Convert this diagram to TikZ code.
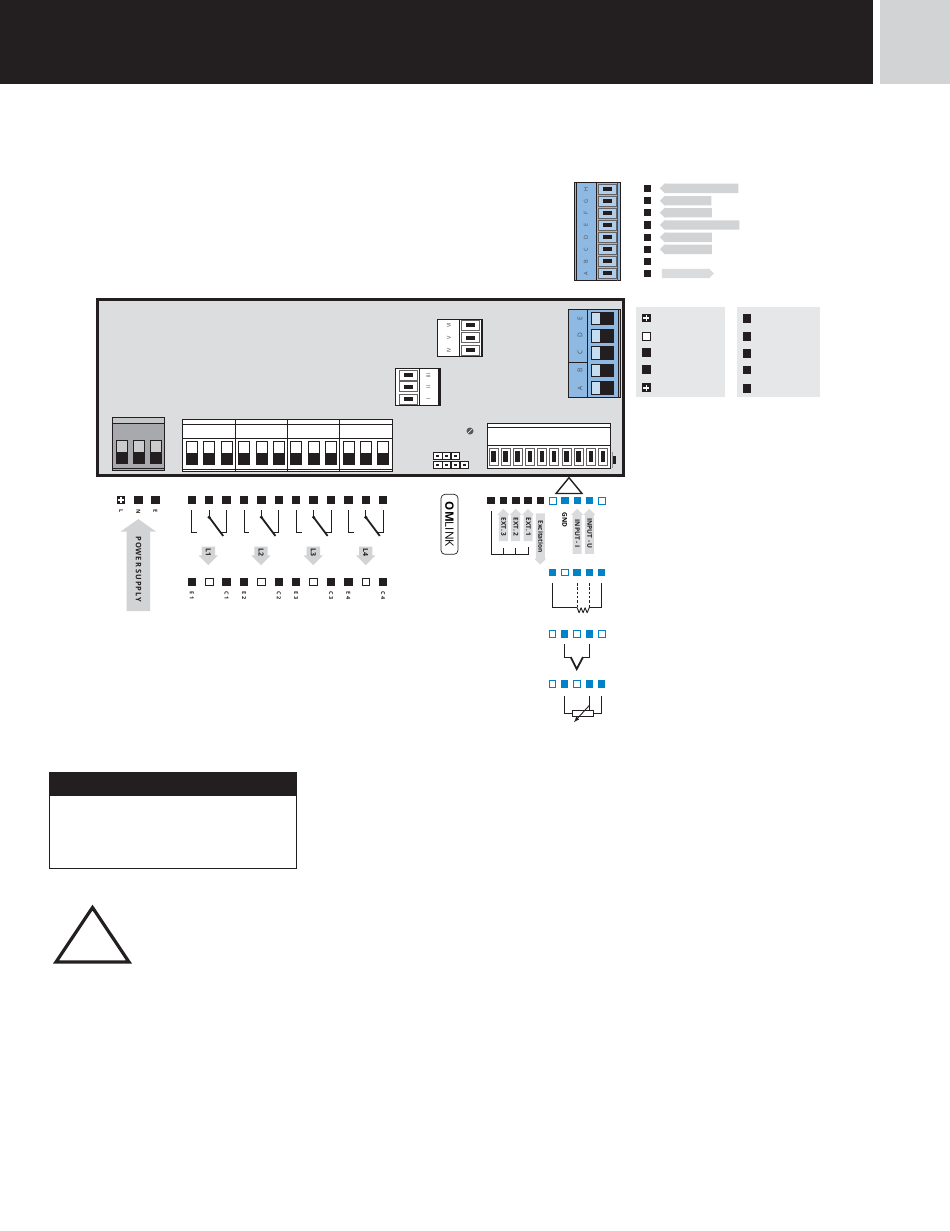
\documentclass[tikz,border=0pt]{standalone}
\usepackage{fontspec}
\setsansfont{Open Sans}
\usetikzlibrary{shapes.arrows}
\definecolor{blk}{HTML}{231F20}
\definecolor{tabgrey}{HTML}{D1D3D4}
\definecolor{panelgrey}{HTML}{DCDDDE}
\definecolor{legendgrey}{HTML}{E6E7E8}
\definecolor{arrowgrey}{HTML}{DADBDC}
\definecolor{pwrgrey}{HTML}{A7A9AC}
\definecolor{sigblue}{HTML}{0082C6}
\definecolor{connblue}{HTML}{8DB9E3}
\begin{document}
\begin{tikzpicture}[x=1pt, y=-1pt]
        \tikzstyle{every node}=[inner sep=0pt, outer sep=0pt, font=\sffamily]
        \tikzstyle{sqfull}=[fill=blk, minimum size=8.5pt]
        \tikzstyle{sqopen}=[draw=blk, fill=white, line width=0.8pt, minimum size=7.7pt]
        \tikzstyle{sqsmall}=[fill=blk, minimum size=7.5pt]
        \tikzstyle{sqblue}=[fill=sigblue, minimum size=7.5pt]
        \tikzstyle{sqring}=[draw=sigblue, fill=white, line width=0.8pt, minimum size=6.7pt]
        \tikzstyle{sqplus}=[sqfull, path picture={
            \draw[white, line width=1.6pt] ([xshift=-3pt]path picture bounding box.center) -- ([xshift=3pt]path picture bounding box.center);
            \draw[white, line width=1.6pt] ([yshift=-3pt]path picture bounding box.center) -- ([yshift=3pt]path picture bounding box.center);}]
        \tikzstyle{halfblack}=[path picture={
            \fill[blk] (path picture bounding box.west) rectangle (path picture bounding box.south east);}]
        \tikzstyle{relayterm}=[draw=blk, fill=white, line width=0.8pt, minimum width=11pt, minimum height=22.5pt, halfblack]
        \tikzstyle{pwrterm}=[draw=blk, fill=pwrgrey!60, line width=0.8pt, minimum width=11pt, minimum height=22.5pt, halfblack]
        \tikzstyle{rightblack}=[path picture={
            \fill[blk] ([xshift=-2pt]path picture bounding box.north) rectangle (path picture bounding box.south east);}]
        \tikzstyle{bigterm}=[draw=blk, fill=connblue!50, line width=0.9pt, minimum width=22pt, minimum height=12.5pt, rightblack]
        \tikzstyle{midblack}=[path picture={
            \fill[blk] ([shift={(-4.5pt,-2pt)}]path picture bounding box.center) rectangle ([shift={(4.5pt,2pt)}]path picture bounding box.center);}]
        \tikzstyle{bluecage}=[draw=blk!70, fill=connblue!70, line width=0.5pt, minimum width=18pt, minimum height=10pt, midblack]
        \tikzstyle{whitecage}=[draw=blk!70, fill=white, line width=0.5pt, minimum width=17.5pt, minimum height=10pt, midblack]
        \tikzstyle{stripcage}=[draw=blk!70, fill=white, line width=0.5pt, minimum width=9pt, minimum height=17pt, path picture={
            \fill[blk] ([shift={(-2.2pt,-5.5pt)}]path picture bounding box.center) rectangle ([shift={(2.2pt,5.5pt)}]path picture bounding box.center);}]
        \tikzstyle{jumper}=[draw=blk, fill=white, line width=0.6pt, minimum width=8.3pt, minimum height=7.4pt, path picture={
            \fill[blk] ([shift={(-1.5pt,-1pt)}]path picture bounding box.center) rectangle ([shift={(1.5pt,1pt)}]path picture bounding box.center);}]
        \tikzstyle{pinname}=[rotate=90, font=\sffamily\fontsize{5.5}{5.5}\selectfont, text=blk!80]
        \tikzstyle{tagtext}=[rotate=-90, anchor=west, font=\sffamily\bfseries\fontsize{5.5}{6}\selectfont, text=blk]
        \tikzstyle{tagarrow}=[single arrow, fill=arrowgrey, rotate=-90, text height=5pt, text depth=1pt, inner ysep=1.3pt, single arrow head extend=1.6pt, font=\sffamily\bfseries\fontsize{6.5}{6.5}\selectfont, text=blk]
        \tikzstyle{uparrow}=[tagarrow, shape border rotate=180]
        \tikzstyle{lamparrow}=[tagarrow, fill=tabgrey, text height=6pt, inner ysep=3pt, single arrow head extend=3pt, minimum height=18.5pt, font=\sffamily\bfseries\fontsize{7}{7}\selectfont]
        \tikzstyle{legendarrow}=[single arrow, fill=tabgrey, text height=5pt, text depth=0pt, inner ysep=2pt, single arrow head extend=0.6pt, shape border rotate=180]
        \tikzstyle{wire}=[blk, line width=0.9pt]
        \tikzstyle{heavywire}=[blk, line width=1.8pt]

        \useasboundingbox (0,0) rectangle (950,1231);

        % header
        \fill[blk] (0,0) rectangle (873,84);
        \fill[tabgrey] (880,0) rectangle (950,84);

        % top connector
        \node (topblock) [draw=blk, fill=connblue, line width=1pt, minimum width=45.5pt, minimum height=98pt] at (597.5,231.5) {};
        \draw[blk, line width=1.2pt] (596.5,182.5) -- (596.5,280.5);
        \draw[blk, line width=1pt] (576,182.5) -- (576,280.5);
        \draw[blk!80, line width=0.6pt] (617.5,182.5) -- (617.5,280.5);
        \matrix (topterm) [row sep=1.55pt] at (607,231.3) {
            \node (th) [bluecage] {}; \\
            \node (tg) [bluecage] {}; \\
            \node (tf) [bluecage] {}; \\
            \node (te) [bluecage] {}; \\
            \node (td) [bluecage] {}; \\
            \node (tc) [bluecage] {}; \\
            \node (tb) [bluecage] {}; \\
            \node (ta) [bluecage] {}; \\
        };
        \node (lh) [pinname] at (586,189) {H};
        \node (lg) [pinname] at (586,201) {G};
        \node (lf) [pinname] at (586,213) {F};
        \node (le) [pinname] at (586,225) {E};
        \node (ld) [pinname] at (586,237.3) {D};
        \node (lc) [pinname] at (586,249.3) {C};
        \node (lb) [pinname] at (586,261.3) {B};
        \node (la) [pinname] at (586,273.3) {A};

        % top connector legend
        \node (s1) [sqsmall] at (647.3,188.5) {};
        \node (s2) [sqsmall] at (647.3,200.7) {};
        \node (s3) [sqsmall] at (647.3,212.7) {};
        \node (s4) [sqsmall] at (647.3,225) {};
        \node (s5) [sqsmall] at (647.3,237.3) {};
        \node (s6) [sqsmall] at (647.3,249.3) {};
        \node (s7) [sqsmall] at (647.3,261.3) {};
        \node (s8) [sqsmall] at (647.3,273.5) {};
        \node (a1) [legendarrow, minimum height=78.5pt] at (701.5,188.3) {};
        \node (a2) [legendarrow, minimum height=51.5pt] at (688,200.7) {};
        \node (a3) [legendarrow, minimum height=52pt] at (688.2,212.7) {};
        \node (a4) [legendarrow, minimum height=79.5pt] at (702,225) {};
        \node (a5) [legendarrow, minimum height=52pt] at (688.2,237.3) {};
        \node (a6) [legendarrow, minimum height=52pt] at (688.2,249.3) {};
        \node (a8) [legendarrow, shape border rotate=0, fill=arrowgrey, minimum height=52pt] at (685.5,273.5) {};

        % main unit
        \node (unit) [draw=blk, fill=panelgrey, line width=3pt, minimum width=525.5pt, minimum height=175.5pt] at (360.5,387.5) {};

        % blue connector
        \node (bluebox) [draw=blk, fill=connblue, line width=0.8pt, minimum width=52.5pt, minimum height=88pt] at (594.5,353.3) {};
        \draw[blk, line width=0.8pt] (587.7,309.3) -- (587.7,397.3);
        \draw[blk, line width=0.8pt] (568,362.7) -- (587.7,362.7);
        \draw[blk, line width=0.6pt] (618.7,309.3) -- (618.7,397.3);
        \node (be) [bigterm] at (602,318.3) {};
        \node (bd) [bigterm] at (602,335.7) {};
        \node (bc) [bigterm] at (602,353) {};
        \node (bb) [bigterm] at (602,370.3) {};
        \node (ba) [bigterm] at (602,388) {};
        \node (ne) [pinname, font=\sffamily\fontsize{6.5}{6.5}\selectfont] at (580,319) {E};
        \node (nd) [pinname, font=\sffamily\fontsize{6.5}{6.5}\selectfont] at (580,335.3) {D};
        \node (nc) [pinname, font=\sffamily\fontsize{6.5}{6.5}\selectfont] at (580,352) {C};
        \node (nb) [pinname, font=\sffamily\fontsize{6.5}{6.5}\selectfont] at (580,370) {B};
        \node (na) [pinname, font=\sffamily\fontsize{6.5}{6.5}\selectfont] at (580,388) {A};

        % IV V VI connector
        \node (upperbox) [draw=blk, fill=white, line width=1pt, minimum width=45pt, minimum height=37pt] at (460,338) {};
        \draw[blk, line width=0.8pt] (459.3,319.5) -- (459.3,356.5);
        \draw[blk, line width=2pt] (481.5,319.5) -- (481.5,356.5);
        \node (u6) [whitecage] at (470,325) {};
        \node (u5) [whitecage] at (470,337.7) {};
        \node (u4) [whitecage] at (470,350.3) {};
        \node (n6) [pinname] at (449,325) {VI};
        \node (n5) [pinname] at (449,337.7) {V};
        \node (n4) [pinname] at (449,350.3) {IV};

        % I II III connector
        \node (lowerbox) [draw=blk, fill=white, line width=1pt, minimum width=45pt, minimum height=37pt] at (418,387) {};
        \draw[blk, line width=0.8pt] (419.7,368.5) -- (419.7,405.5);
        \draw[blk, line width=2pt] (439,368.5) -- (439,405.5);
        \node (l3) [whitecage] at (408,375.3) {};
        \node (l2) [whitecage] at (408,386.7) {};
        \node (l1) [whitecage] at (408,399) {};
        \node (n3) [pinname] at (428.3,375.3) {III};
        \node (n2) [pinname] at (428.3,386.7) {II};
        \node (n1) [pinname] at (428.3,399) {I};

        % screw and jumpers
        \node (screw) [circle, fill=blk!75, minimum size=7pt, path picture={
            \draw[white, line width=0.6pt] (path picture bounding box.south west) -- (path picture bounding box.north east);}] at (470,431) {};
        \matrix (jumpers) [row sep=1pt, column sep=0pt] at (451,460) {
            \node (j1) [jumper] {}; & \node (j2) [jumper] {}; & \node (j3) [jumper] {}; & \\
            \node (j4) [jumper] {}; & \node (j5) [jumper] {}; & \node (j6) [jumper] {}; & \node (j7) [jumper] {}; \\
        };

        % signal strip
        \node (strip) [draw=blk, fill=white, line width=0.8pt, minimum width=123.4pt, minimum height=45pt] at (549,445.8) {};
        \draw[blk, line width=0.7pt] (487.3,427.3) -- (610.7,427.3);
        \draw[blk, line width=0.7pt] (487.3,445.7) -- (610.7,445.7);
        \draw[blk, line width=1.4pt] (487.3,468.3) -- (610.7,468.3);
        \matrix (stripterm) [column sep=2.67pt] at (548.1,456.4) {
            \node (st1) [stripcage] {}; & \node (st2) [stripcage] {}; & \node (st3) [stripcage] {}; & \node (st4) [stripcage] {}; & \node (st5) [stripcage] {}; &
            \node (st6) [stripcage] {}; & \node (st7) [stripcage] {}; & \node (st8) [stripcage] {}; & \node (st9) [stripcage] {}; & \node (st10) [stripcage] {}; \\
        };
        \fill[tabgrey!70!black] (612,452) rectangle (613,468);
        \fill[blk] (613,455.7) rectangle (616,463.7);

        % power connector
        \node (powerblock) [draw=blk, fill=pwrgrey, line width=0.7pt, minimum width=52.5pt, minimum height=53.5pt] at (138.5,444) {};
        \draw[blk, fill=tabgrey!70!pwrgrey, line width=0.7pt] (112.3,417.3) rectangle (164.7,423.5);
        \draw[blk, line width=0.7pt] (112.3,468.3) -- (164.7,468.3);
        \matrix (powerterm) [column sep=5.2pt] at (138.5,452) {
            \node (pl) [pwrterm] {}; & \node (pn) [pwrterm] {}; & \node (pe) [pwrterm] {}; \\
        };

        % relay connector
        \node (relayblock) [draw=blk, fill=white, line width=0.8pt, minimum width=210pt, minimum height=52.4pt] at (287.3,445.5) {};
        \draw[blk, line width=0.7pt] (182.3,424.3) -- (392.3,424.3);
        \draw[blk, line width=0.7pt] (182.3,438.3) -- (392.3,438.3);
        \draw[blk, line width=0.7pt] (182.3,469.3) -- (392.3,469.3);
        \draw[blk, line width=0.7pt] (235.7,419.3) -- (235.7,471.7);
        \draw[blk, line width=0.7pt] (287.7,419.3) -- (287.7,471.7);
        \draw[blk, line width=0.7pt] (339.7,419.3) -- (339.7,471.7);
        \matrix (relayterms) [column sep=5.6pt] at (287.5,452.7) {
            \node (t1) [relayterm] {}; & \node (t2) [relayterm] {}; & \node (t3) [relayterm] {}; & \node (t4) [relayterm] {}; & \node (t5) [relayterm] {}; & \node (t6) [relayterm] {}; &
            \node (t7) [relayterm] {}; & \node (t8) [relayterm] {}; & \node (t9) [relayterm] {}; & \node (t10) [relayterm] {}; & \node (t11) [relayterm] {}; & \node (t12) [relayterm] {}; \\
        };
        \draw[blk, line width=1.4pt] (569,477.7) -- (582,493.5) -- (556,493.5) -- cycle;

        % legend panels
        \node (legendl) [fill=legendgrey, minimum width=89pt, minimum height=90pt] at (680.5,352.3) {};
        \node (legendr) [fill=legendgrey, minimum width=82.7pt, minimum height=90pt] at (778.7,352.3) {};
        \node (ll1) [sqplus] at (646.3,318) {};
        \node (ll2) [sqopen] at (646.3,336.3) {};
        \node (ll3) [sqfull] at (646.3,352.7) {};
        \node (ll4) [sqfull] at (646.3,369.3) {};
        \node (ll5) [sqplus] at (646.3,387.7) {};
        \node (lr1) [sqfull] at (747,318.3) {};
        \node (lr2) [sqfull] at (747,336.3) {};
        \node (lr3) [sqfull] at (747,353.3) {};
        \node (lr4) [sqfull] at (747,370) {};
        \node (lr5) [sqfull] at (747,388.3) {};

        % power supply terminals
        \matrix (powerrow) [column sep=8.6pt] at (138.3,500) {
            \node (ql) [sqplus] {}; &
            \node (qn) [sqfull] {}; &
            \node (qe) [sqfull] {}; \\
        };
        \node (tl) [tagtext] at ([yshift=-5.5pt]ql.south) {L};
        \node (tn) [tagtext] at ([yshift=-5.5pt]qn.south) {N};
        \node (te2) [tagtext] at ([yshift=-5.5pt]qe.south) {E};
        \node (powerarrow) [uparrow, fill=tabgrey, minimum height=92pt, text height=6pt, inner ysep=8pt, single arrow head extend=6pt, single arrow tip angle=110, font=\sffamily\bfseries\fontsize{7.5}{7.5}\selectfont\addfontfeatures{LetterSpace=11}] at (138.3,569.2) {POWER SUPPLY};

        % relay terminals
        \matrix (relaytop) [column sep=8.9pt] at (287.5,500) {
            \node (r1) [sqfull] {}; & \node (r2) [sqfull] {}; & \node (r3) [sqfull] {}; & \node (r4) [sqfull] {}; & \node (r5) [sqfull] {}; & \node (r6) [sqfull] {}; &
            \node (r7) [sqfull] {}; & \node (r8) [sqfull] {}; & \node (r9) [sqfull] {}; & \node (r10) [sqfull] {}; & \node (r11) [sqfull] {}; & \node (r12) [sqfull] {}; \\
        };
        \matrix (relaybot) [column sep=8.9pt] at (287.5,582) {
            \node (b1) [sqfull] {}; & \node (b2) [sqopen] {}; & \node (b3) [sqfull] {}; &
            \node (b4) [sqfull] {}; & \node (b5) [sqopen] {}; & \node (b6) [sqfull] {}; &
            \node (b7) [sqfull] {}; & \node (b8) [sqopen] {}; & \node (b9) [sqfull] {}; &
            \node (b10) [sqfull] {}; & \node (b11) [sqopen] {}; & \node (b12) [sqfull] {}; \\
        };
        \node (te1) [tagtext] at ([yshift=-5.5pt]b1.south) {E 1};
        \node (tc1) [tagtext] at ([yshift=-5.5pt]b3.south) {C 1};
        \node (te3) [tagtext] at ([yshift=-5.5pt]b4.south) {E 2};
        \node (tc2) [tagtext] at ([yshift=-5.5pt]b6.south) {C 2};
        \node (te4) [tagtext] at ([yshift=-5.5pt]b7.south) {E 3};
        \node (tc3) [tagtext] at ([yshift=-5.5pt]b9.south) {C 3};
        \node (te5) [tagtext] at ([yshift=-5.5pt]b10.south) {E 4};
        \node (tc4) [tagtext] at ([yshift=-5.5pt]b12.south) {C 4};
        \node (lamp1) [lamparrow] at (208.3,552.5) {L1};
        \node (lamp2) [lamparrow] at (261,552.5) {L2};
        \node (lamp3) [lamparrow] at (313.3,552.5) {L3};
        \node (lamp4) [lamparrow] at (365.7,552.5) {L4};

        % relay contacts
        \draw[wire] ([yshift=-5.7pt]r1.south) -- ++(0,22.7) -- ++(5.3,0);
        \draw[wire] ([yshift=-5.7pt]r2.south) -- ++(0,7.3) coordinate (p1);
        \draw[wire] ([yshift=-5.7pt]r3.south) -- ++(0,22.7) -- ++(-5.3,0);
        \draw[heavywire] (p1) -- ++(14,18.7);
        \fill[blk] (p1) circle (1.8pt);
        \draw[wire] ([yshift=-5.7pt]r4.south) -- ++(0,22.7) -- ++(5.3,0);
        \draw[wire] ([yshift=-5.7pt]r5.south) -- ++(0,7.3) coordinate (p2);
        \draw[wire] ([yshift=-5.7pt]r6.south) -- ++(0,22.7) -- ++(-5.3,0);
        \draw[heavywire] (p2) -- ++(14,18.7);
        \fill[blk] (p2) circle (1.8pt);
        \draw[wire] ([yshift=-5.7pt]r7.south) -- ++(0,22.7) -- ++(5.3,0);
        \draw[wire] ([yshift=-5.7pt]r8.south) -- ++(0,7.3) coordinate (p3);
        \draw[wire] ([yshift=-5.7pt]r9.south) -- ++(0,22.7) -- ++(-5.3,0);
        \draw[heavywire] (p3) -- ++(14,18.7);
        \fill[blk] (p3) circle (1.8pt);
        \draw[wire] ([yshift=-5.7pt]r10.south) -- ++(0,22.7) -- ++(5.3,0);
        \draw[wire] ([yshift=-5.7pt]r11.south) -- ++(0,7.3) coordinate (p4);
        \draw[wire] ([yshift=-5.7pt]r12.south) -- ++(0,22.7) -- ++(-5.3,0);
        \draw[heavywire] (p4) -- ++(14,18.7);
        \fill[blk] (p4) circle (1.8pt);

        % omlink badge
        \node (omlink) [draw=blk, line width=0.7pt, rounded corners=4pt, rotate=-90, minimum width=60pt, minimum height=17pt, font=\sffamily\fontsize{11.5}{12}\selectfont] at (449.5,524.3) {\textbf{OM}LINK};

        % signal terminals
        \matrix (sigrow) [column sep=4.8pt] at (546.5,500.7) {
            \node (x1) [sqsmall] {}; & \node (x2) [sqsmall] {}; & \node (x3) [sqsmall] {}; & \node (x4) [sqsmall] {}; & \node (x5) [sqsmall] {}; &
            \node (x6) [sqring] {}; & \node (x7) [sqblue] {}; & \node (x8) [sqblue] {}; & \node (x9) [sqblue] {}; & \node (x10) [sqring] {}; \\
        };
        \node (ext3) [uparrow, minimum height=32.3pt] at (503.3,527.2) {EXT. 3};
        \node (ext2) [uparrow, minimum height=32.3pt] at (515.7,527.2) {EXT. 2};
        \node (ext1) [uparrow, minimum height=32.3pt] at (528,527.2) {EXT. 1};
        \node (excit) [tagarrow, minimum height=51.3pt] at (540.3,536.7) {Excitation};
        \node (gnd) [rotate=-90, font=\sffamily\bfseries\fontsize{6.5}{6.5}\selectfont] at (564.7,520) {GND};
        \node (inputi) [uparrow, minimum height=45pt] at (577,533.5) {INPUT - I};
        \node (inputu) [uparrow, minimum height=45pt] at (589.3,533.5) {INPUT - U};
        \draw[wire] ([yshift=-7pt]x1.south) -- ++(0,43.3) coordinate (bus) -- ++(37.4,0) -- ++(0,-7.6);
        \draw[wire] (x2 |- bus) -- ++(0,-7);
        \draw[wire] (x3 |- bus) -- ++(0,-7);

        % resistance thermometer, 4 wire
        \matrix (rowa) [column sep=4.8pt] at (577,572.3) {
            \node (c1) [sqblue] {}; & \node (c2) [sqring] {}; & \node (c3) [sqblue] {}; & \node (c4) [sqblue] {}; & \node (c5) [sqblue] {}; \\
        };
        \draw[wire] ([yshift=-7pt]c1.south) -- ++(0,24.4) -- ++(24.7,0) coordinate (ra);
        \draw[wire, line join=round] (ra) -- ++(2,5.3) -- ++(2,-5) -- ++(2,5) -- ++(2,-5) -- ++(2,5) -- ++(2.3,-5.3) coordinate (rb);
        \draw[wire] ([yshift=-7pt]c5.south) -- ++(0,24.4) -- (rb);
        \draw[wire, dash pattern=on 2.5pt off 1.8pt] ([yshift=-7pt]c3.south) -- ++(0,24.4);
        \draw[wire, dash pattern=on 2.5pt off 1.8pt] ([yshift=-7pt]c4.south) -- ++(0,24.4);

        % thermocouple
        \matrix (rowb) [column sep=4.8pt] at (577,634) {
            \node (d1) [sqring] {}; & \node (d2) [sqblue] {}; & \node (d3) [sqring] {}; & \node (d4) [sqblue] {}; & \node (d5) [sqring] {}; \\
        };
        \draw[wire, line width=1.1pt] ([yshift=-6pt]d2.south) -- ++(0,13.3) -- ++(6,0) coordinate (va);
        \draw[heavywire, line join=miter] (va) -- ++(6,12) -- ++(6.3,-12) coordinate (vb);
        \draw[wire, line width=1.1pt] ([yshift=-6pt]d4.south) -- ++(0,13.3) -- (vb);

        % potentiometer
        \matrix (rowc) [column sep=4.8pt] at (577,684) {
            \node (e1) [sqring] {}; & \node (e2) [sqblue] {}; & \node (e3) [sqring] {}; & \node (e4) [sqblue] {}; & \node (e5) [sqblue] {}; \\
        };
        \node (pot) [draw=blk, fill=white, line width=0.8pt, minimum width=21pt, minimum height=6.7pt] at (582.8,713.3) {};
        \draw[wire] ([yshift=-8pt]e2.south) |- (pot.west);
        \draw[wire] ([yshift=-8pt]e5.south) |- (pot.east);
        \draw[wire] ([yshift=-8pt]e4.south) coordinate (sl1) -- ++(0,14);
        \draw[wire, ->, >=latex] ([yshift=-9.7pt]sl1) -- ++(-15.3,16.7);

        % warning panel
        \node (warnbox) [draw=blk, line width=0.7pt, minimum width=247.3pt, minimum height=96pt] at (172.7,820) {};
        \fill[blk] (49,772) rectangle (297,796);
        \draw[blk, line width=3.2pt] (92.5,907.5) -- (129,962) -- (56,962) -- cycle;
    \end{tikzpicture}
\end{document}
